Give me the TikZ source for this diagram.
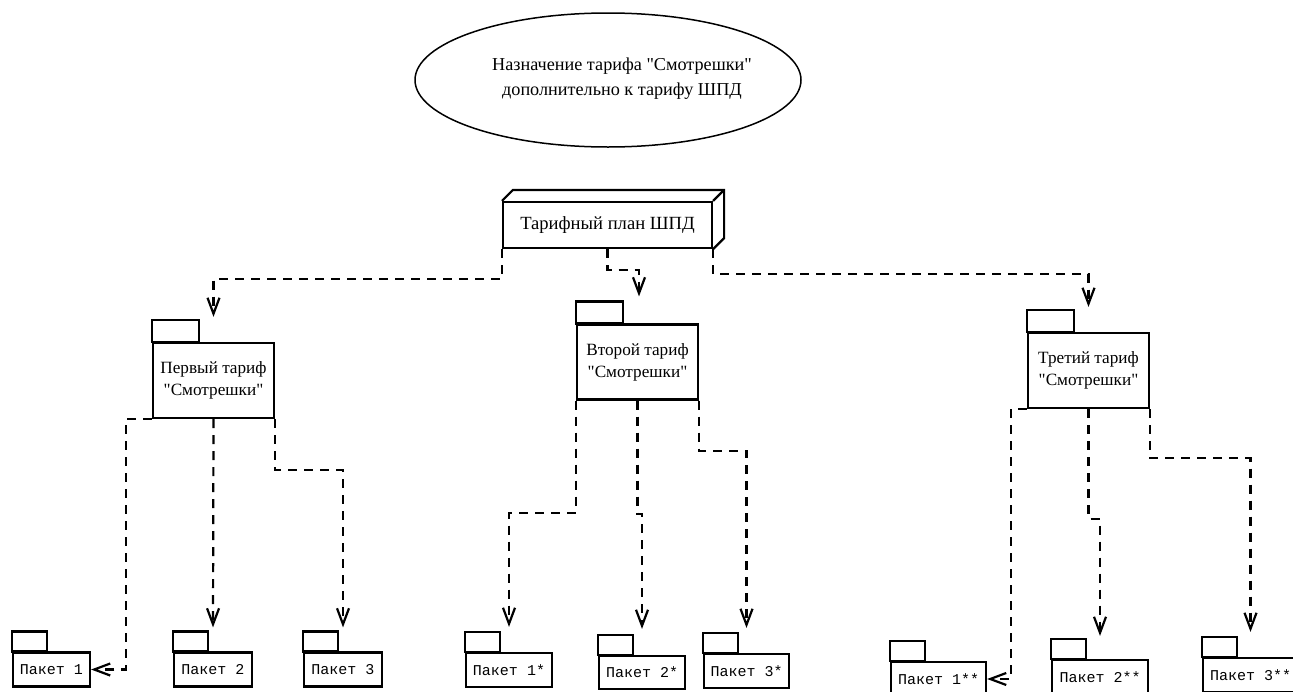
\documentclass[tikz,border=0pt]{standalone}
\usepackage{fontspec}
\setmainfont{Liberation Serif}[Ligatures=TeXOff]
\newfontfamily\monofont{Liberation Mono}[Ligatures=TeXOff]
\usetikzlibrary{arrows.meta,calc,shapes.geometric}
\begin{document}
\begin{tikzpicture}[x=1pt,y=-1pt,
  box/.style={draw,line width=2.2pt,inner sep=0pt},
  bigpkg/.style={box,minimum width=121pt,minimum height=75pt,align=center,font=\fontsize{17.2}{22}\selectfont},
  smallpkg/.style={box,minimum height=34pt,font=\monofont\fontsize{15}{18}\selectfont},
  tabline/.style={line width=2.2pt},
  dep/.style={draw,line width=2.2pt,dash pattern=on 9pt off 7pt,-{Straight Barb[length=16pt,width=12pt,line width=2.2pt]}},
]
\clip (0,0) rectangle (1293,691);
\fill[white] (0,0) rectangle (1293,691);

% use case ellipse
\node[draw,ellipse,line width=1.5pt,minimum width=386pt,minimum height=134pt] (goal) at (608,80) {};
\node[align=center,font=\fontsize{18.2}{25}\selectfont] (goaltext) at (622,79) {Назначение тарифа "Смотрешки"\\дополнительно к тарифу ШПД};

% top 3D box
\node[box,minimum width=209pt,minimum height=46pt,font=\fontsize{18.6}{22}\selectfont] (plan) at (607.5,225) {Тарифный план ШПД};
\draw[tabline,line join=miter] (plan.north west) -- ++(11,-11) -- ($(plan.north east)+(11,-11)$) -- ($(plan.south east)+(11,-11)$) -- (plan.south east);
\draw[tabline] (plan.north east) -- ++(11,-11);

% big packages
\node[bigpkg] (p1) at (213.5,380.5) {Первый тариф\\"Смотрешки"};
\node[bigpkg] (p2) at (637.5,362) {Второй тариф\\"Смотрешки"};
\node[bigpkg] (p3) at (1088.5,370.5) {Третий тариф\\"Смотрешки"};
\foreach \p in {p1,p2,p3}{\draw[tabline] (\p.north west) rectangle ++(47,-22);}

% small packages
\node[smallpkg,minimum width=77pt] (k1) at (51.5,669.5) {Пакет 1};
\node[smallpkg,minimum width=78pt] (k2) at (213,669.5) {Пакет 2};
\node[smallpkg,minimum width=78pt] (k3) at (343,669.5) {Пакет 3};
\node[smallpkg,minimum width=86pt] (k1s) at (509,670) {Пакет 1*};
\node[smallpkg,minimum width=86pt,minimum height=33pt] (k2s) at (642,672.5) {Пакет 2*};
\node[smallpkg,minimum width=85pt] (k3s) at (746.5,671) {Пакет 3*};
\node[smallpkg,minimum width=95pt] (k1ss) at (938.5,679) {Пакет 1**};
\node[smallpkg,minimum width=96pt] (k2ss) at (1100,677) {Пакет 2**};
\node[smallpkg,minimum width=95pt] (k3ss) at (1250.5,675) {Пакет 3**};
\foreach \k in {k1,k2,k3,k1s,k2s,k3s,k1ss,k2ss,k3ss}{\draw[tabline] (\k.north west) rectangle ++(35,-20);}

% connectors from the plan
\draw[dep] (plan.south west) -- ++(0,30) -| ($(p1.north)+(0,-25)$);
\draw[dep] (plan.south) -- ++(0,21) -| ($(p2.north)+(1.5,-27)$);
\draw[dep] (plan.south east) -- ++(0,25) -| ($(p3.north)+(0,-25)$);

% connectors from the first tariff
\draw[dep] (p1.south west) -- ++(-26,0) |- (k1.east);
\draw[dep] (p1.south) -- ($(k2.north)+(0,-24)$);
\draw[dep] (p1.south east) -- ++(0,51) -| ($(k3.north)+(0,-24)$);

% connectors from the second tariff
\draw[dep] (p2.south west) -- ++(0,112) -| ($(k1s.north)+(0,-25)$);
\draw[dep] (p2.south) -- ++(0,113) -| ($(k2s.north)+(0,-26)$);
\draw[dep] (p2.south east) -- ++(0,50) -| ($(k3s.north)+(0,-25)$);

% connectors from the third tariff
\draw[dep] (p3.south west) -- ++(-16,0) |- (k1ss.east);
\draw[dep] (p3.south) -- ++(0,110) -| ($(k2ss.north)+(0,-23)$);
\draw[dep] (p3.south east) -- ++(0,49) -| ($(k3ss.north)+(0,-25)$);
\end{tikzpicture}
\end{document}
